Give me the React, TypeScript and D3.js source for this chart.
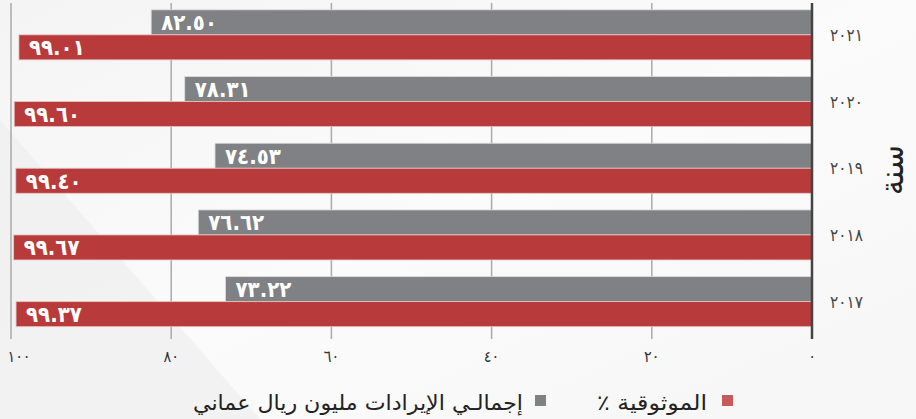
import React, { useEffect } from "react";
import * as d3 from "d3";

const years = ["2021", "2020", "2019", "2018", "2017"];
const yearLabels = ["٢٠٢١", "٢٠٢٠", "٢٠١٩", "٢٠١٨", "٢٠١٧"];
const revenue = [82.5, 78.31, 74.53, 76.62, 73.22];
const revenueLabels = ["٨٢.٥٠", "٧٨.٣١", "٧٤.٥٣", "٧٦.٦٢", "٧٣.٢٢"];
const reliability = [99.01, 99.6, 99.4, 99.67, 99.37];
const reliabilityLabels = ["٩٩.٠١", "٩٩.٦٠", "٩٩.٤٠", "٩٩.٦٧", "٩٩.٣٧"];
const xTicks = [0, 20, 40, 60, 80, 100];
const xTickLabels = ["٠", "٢٠", "٤٠", "٦٠", "٨٠", "١٠٠"];
const seriesNames = ["الموثوقية ٪", "إجمالـي الإيرادات مليون ريال عماني"];

const W = 916;
const H = 419;
const GREY = "#808184";
const RED = "#b93a3a";
const FONT = "'DejaVu Sans Condensed', 'DejaVu Sans', sans-serif";

export default function App() {
  useEffect(() => {
    document.body.style.margin = "0";
  }, []);

  const x = d3.scaleLinear().domain([0, 100]).range([812, 11]);
  const y = d3
    .scaleBand<string>()
    .domain(years)
    .range([1.5, 335])
    .paddingInner(0.25)
    .paddingOuter(0.125);
  const sub = d3
    .scaleBand<string>()
    .domain(["rev", "rel"])
    .range([0, y.bandwidth()]);

  const top = 3;
  const bottom = 333;

  return (
    <svg width={W} height={H} style={{ display: "block" }}>
      <defs>
        <linearGradient id="bg" x1="0" y1="0" x2="1" y2="1">
          <stop offset="0" stopColor="#f4f4f4" />
          <stop offset="0.5" stopColor="#fbfbfb" />
          <stop offset="1" stopColor="#f6f6f6" />
        </linearGradient>
      </defs>
      <rect width={W} height={H} fill="url(#bg)" />
      <polygon points="0,120 260,419 0,419" fill="#eeeeee" opacity={0.7} />

      {/* grid */}
      {xTicks.slice(1).map((t) => (
        <line key={t} x1={x(t)} x2={x(t)} y1={top} y2={bottom + 6} stroke="#aaaaab" strokeWidth={1.5} />
      ))}

      {/* bars */}
      {years.map((yr, i) => (
        <g key={yr}>
          <rect
            x={x(revenue[i])}
            y={(y(yr) ?? 0) + (sub("rev") ?? 0)}
            width={x(0) - x(revenue[i])}
            height={sub.bandwidth()}
            fill={GREY}
            stroke="#dcdcdc"
            strokeWidth={0.8}
          />
          <rect
            x={x(reliability[i])}
            y={(y(yr) ?? 0) + (sub("rel") ?? 0)}
            width={x(0) - x(reliability[i])}
            height={sub.bandwidth()}
            fill={RED}
            stroke="#e6c4c4"
            strokeWidth={0.8}
          />
          <text
            x={x(revenue[i]) + 10}
            y={(y(yr) ?? 0) + (sub("rev") ?? 0) + sub.bandwidth() / 2 + 8}
            fill="#fff"
            fontFamily={FONT}
            fontWeight="bold"
            fontSize={22}
          >
            {revenueLabels[i]}
          </text>
          <text
            x={x(reliability[i]) + 10}
            y={(y(yr) ?? 0) + (sub("rel") ?? 0) + sub.bandwidth() / 2 + 8}
            fill="#fff"
            fontFamily={FONT}
            fontWeight="bold"
            fontSize={22}
          >
            {reliabilityLabels[i]}
          </text>
          <text
            x={830}
            y={(y(yr) ?? 0) + y.bandwidth() / 2 + 6}
            fill="#444"
            fontFamily={FONT}
            fontSize={17}
          >
            {yearLabels[i]}
          </text>
        </g>
      ))}

      {/* zero axis */}
      <line x1={x(0)} x2={x(0)} y1={top} y2={bottom + 6} stroke="#444" strokeWidth={2.5} />

      {/* x tick labels */}
      {xTicks.map((t, i) => (
        <text
          key={t}
          x={Math.max(x(t), 19)}
          y={362}
          textAnchor="middle"
          fill="#333"
          fontFamily={FONT}
          fontSize={16}
        >
          {xTickLabels[i]}
        </text>
      ))}

      {/* y title */}
      <text
        transform="translate(903,170) rotate(-90)"
        textAnchor="middle"
        fill="#222"
        fontFamily={FONT}
        fontSize={33}
      >
        سنة
      </text>

      {/* legend */}
      <rect x={722} y={395} width={11} height={11} fill="#c75b5b" />
      <text
        x={707}
        y={410}
        direction="rtl"
        textAnchor="start"
        fill="#222"
        fontFamily={FONT}
        fontSize={21}
        textLength={110}
        lengthAdjust="spacingAndGlyphs"
      >
        {seriesNames[0]}
      </text>
      <rect x={535} y={395} width={11} height={11} fill={GREY} />
      <text
        x={523}
        y={410}
        direction="rtl"
        textAnchor="start"
        fill="#222"
        fontFamily={FONT}
        fontSize={21}
        textLength={330}
        lengthAdjust="spacingAndGlyphs"
      >
        {seriesNames[1]}
      </text>
    </svg>
  );
}
